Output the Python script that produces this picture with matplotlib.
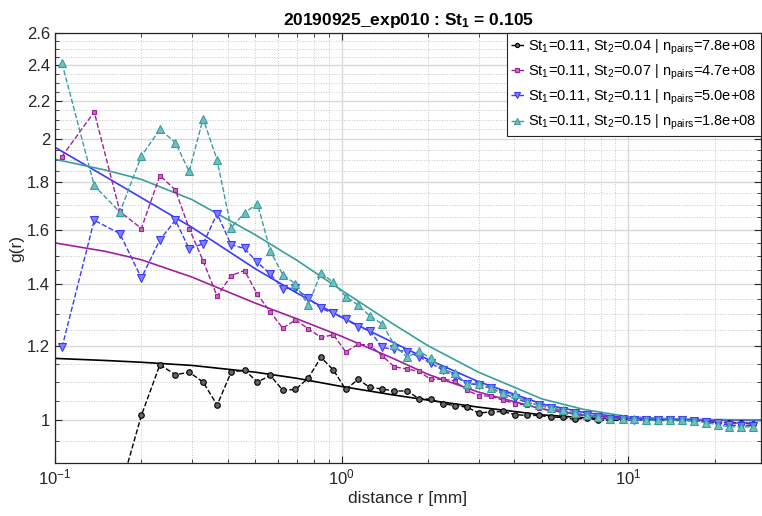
import numpy as np
import matplotlib
matplotlib.use("Agg")
import matplotlib.pyplot as plt
from matplotlib.ticker import FixedLocator, NullFormatter

plt.rcParams['font.family'] = ['Liberation Sans', 'DejaVu Sans']
plt.rcParams['mathtext.fontset'] = 'custom'
plt.rcParams['mathtext.rm'] = 'Liberation Sans'
plt.rcParams['mathtext.it'] = 'Liberation Sans'
plt.rcParams['mathtext.bf'] = 'Liberation Sans:bold'

# bin centres (mm), shared by all series
r = [0.1058, 0.1370, 0.1684, 0.2001, 0.2322, 0.2630, 0.2937, 0.3286, 0.3677, 0.4113,
     0.4581, 0.5083, 0.5633, 0.6229, 0.6896, 0.7630, 0.8469, 0.9356, 1.0326, 1.140,
     1.252, 1.386, 1.526, 1.689, 1.859, 2.047, 2.254, 2.482, 2.733, 3.009,
     3.313, 3.648, 4.030, 4.436, 4.868, 5.379, 5.904, 6.521, 7.156, 7.863,
     8.657, 9.553, 10.49, 11.53, 12.72, 13.97, 15.39, 16.98, 18.65, 20.47,
     22.48, 24.70, 27.27]

g_004 = [np.nan, np.nan, 0.84, 1.012, 1.147, 1.119, 1.126, 1.099, 1.038, 1.126,
         1.132, 1.099, 1.117, 1.077, 1.079, 1.109, 1.168, 1.132, 1.079, 1.106,
         1.085, 1.080, 1.075, 1.075, 1.055, 1.053, 1.042, 1.037, 1.033, 1.018,
         1.021, 1.022, 1.014, 1.012, 1.012, 1.008, 1.007, 1.002, 1.006, 1.000,
         1.000, 1.000, 1.000, 1.000, 1.000, 1.000, 1.000, 1.000, 0.998, 0.996,
         0.994, 0.994, 0.992]
g_007 = [1.917, 2.140, 1.674, 1.605, 1.829, 1.765, 1.605, 1.482, 1.358, 1.429,
         1.447, 1.364, 1.307, 1.255, 1.281, 1.254, 1.227, 1.235, 1.184, 1.206,
         1.204, 1.172, 1.141, 1.135, 1.128, 1.106, 1.107, 1.102, 1.077, 1.063,
         1.061, 1.051, 1.042, 1.038, 1.030, 1.025, 1.020, 1.015, 1.010, 1.006,
         1.004, 1.001, 1.000, 1.000, 0.999, 1.000, 0.999, 0.999, 0.998, 0.995,
         0.993, 0.993, 0.990]
g_011 = [1.197, 1.638, 1.585, 1.420, 1.561, 1.638, 1.527, 1.546, 1.665, 1.542,
         1.528, 1.476, 1.435, 1.384, 1.385, 1.352, 1.318, 1.302, 1.284, 1.260,
         1.247, 1.197, 1.191, 1.184, 1.170, 1.151, 1.132, 1.115, 1.095, 1.091,
         1.082, 1.068, 1.056, 1.045, 1.038, 1.030, 1.024, 1.017, 1.012, 1.007,
         1.004, 1.002, 1.001, 1.000, 1.000, 1.000, 1.000, 0.999, 0.996, 0.993,
         0.988, 0.987, 0.987]
g_015 = [2.413, 1.785, 1.671, 1.919, 2.050, 1.984, 1.848, 2.105, 1.900, 1.608,
         1.668, 1.707, 1.519, 1.432, 1.400, 1.329, 1.438, 1.405, 1.357, 1.329,
         1.294, 1.268, 1.204, 1.168, 1.186, 1.165, 1.134, 1.123, 1.095, 1.095,
         1.083, 1.070, 1.066, 1.045, 1.038, 1.032, 1.025, 1.018, 1.014, 1.008,
         1.004, 1.002, 1.002, 1.000, 1.000, 1.000, 1.000, 0.999, 0.994, 0.989,
         0.984, 0.984, 0.984]

# fitted curves, read at these r values
r_fit = [0.1, 0.15, 0.2, 0.3, 0.5, 0.7, 1, 1.5, 2, 3, 5, 7, 10, 15, 20, 29]
fit_004 = [1.165, 1.159, 1.154, 1.145, 1.126, 1.109, 1.087, 1.065, 1.051, 1.033,
           1.0135, 1.0064, 1.002, 1.0007, 1.0002, 1.0]
fit_007 = [1.549, 1.517, 1.486, 1.424, 1.335, 1.284, 1.230, 1.166, 1.120, 1.072,
           1.028, 1.013, 1.0035, 1.001, 1.0005, 1.0]
fit_011 = [1.961, 1.824, 1.732, 1.610, 1.453, 1.368, 1.289, 1.213, 1.162, 1.100,
           1.041, 1.0195, 1.0055, 1.002, 1.001, 1.0007]
fit_015 = [1.904, 1.854, 1.812, 1.724, 1.580, 1.483, 1.378, 1.270, 1.202, 1.126,
           1.054, 1.027, 1.0087, 1.003, 1.0017, 1.0012]

labels = [
    r'St$_1$=0.11, St$_2$=0.04 | n$_{pairs}$=7.8e+08',
    r'St$_1$=0.11, St$_2$=0.07 | n$_{pairs}$=4.7e+08',
    r'St$_1$=0.11, St$_2$=0.11 | n$_{pairs}$=5.0e+08',
    r'St$_1$=0.11, St$_2$=0.15 | n$_{pairs}$=1.8e+08',
]
colors = ['#000000', '#a0209f', '#3b3bff', '#3a9e9e']
faces = ['#666666', '#c070c0', '#8080ff', '#70c0c0']
markers = ['o', 's', 'v', '^']
msizes = [4, 3, 5.5, 5.5]

fig = plt.figure(figsize=(7.62, 5.16), dpi=100)
ax = fig.add_axes([55 / 762, 1 - 463 / 516, 706 / 762, 430 / 516])

data = [g_004, g_007, g_011, g_015]
fits = [fit_004, fit_007, fit_011, fit_015]
for g, f, c, fc, m, ms, lab in zip(data, fits, colors, faces, markers, msizes, labels):
    ax.plot(r, g, linestyle='--', color=c, marker=m, markersize=ms,
            markerfacecolor=fc, markeredgecolor=c, markeredgewidth=0.8,
            linewidth=1.0, label=lab, zorder=3)
    ax.plot(r_fit, f, '-', color=c, linewidth=1.2, zorder=2)

ax.set_xscale('log')
ax.set_yscale('log')
ax.set_xlim(0.1, 29)
ax.set_ylim(0.9, 2.6)

yt = [1, 1.2, 1.4, 1.6, 1.8, 2, 2.2, 2.4, 2.6]
ax.yaxis.set_major_locator(FixedLocator(yt))
ax.set_yticklabels(['1', '1.2', '1.4', '1.6', '1.8', '2', '2.2', '2.4', '2.6'])
ax.yaxis.set_minor_locator(FixedLocator(np.arange(0.9, 2.61, 0.05)))
ax.yaxis.set_minor_formatter(NullFormatter())

ax.grid(True, which='major', color='#d9d9d9', linewidth=1.0, linestyle='-')
ax.grid(True, which='minor', color='#c8c8c8', linewidth=0.7, linestyle=':')
ax.set_axisbelow(True)

ax.tick_params(which='both', direction='in', top=True, right=True, labelsize=12,
               color='#262626', labelcolor='#262626')
ax.tick_params(which='major', length=5)
ax.tick_params(which='minor', length=3)
for s in ax.spines.values():
    s.set_color('#262626')
    s.set_linewidth(0.9)

ax.set_xlabel('distance r [mm]', fontsize=12.5, color='#262626', labelpad=2)
ax.set_ylabel('g(r)', fontsize=12.5, color='#262626', labelpad=2)
ax.set_title(r'20190925_exp010 : St$_\mathbf{1}$ = 0.105', fontsize=12.5,
             fontweight='bold', pad=6)

leg = ax.legend(loc='upper right', fontsize=10.5, handlelength=0.9, handletextpad=0.3,
                borderaxespad=0.0, borderpad=0.3, labelspacing=0.4,
                fancybox=False, framealpha=1.0, edgecolor='#262626', markerscale=0.75)
leg.get_frame().set_linewidth(0.8)

fig.savefig('out.png', dpi=100)
